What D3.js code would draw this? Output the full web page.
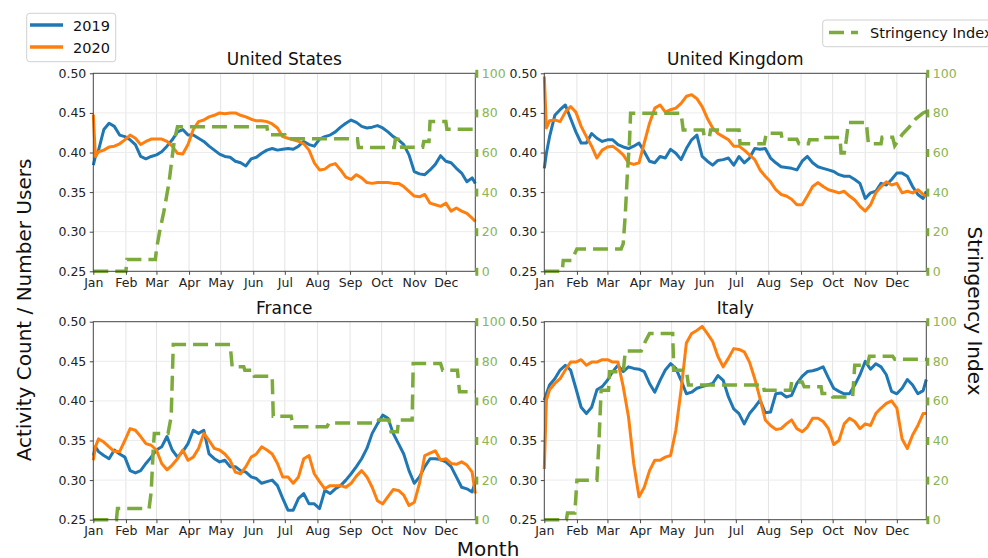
<!DOCTYPE html>
<html>
<head>
<meta charset="utf-8">
<script src="https://cdn.jsdelivr.net/npm/d3@7"></script>
<style>
  body { margin: 0; background: #fff; }
  text { font-family: "DejaVu Sans", sans-serif; }
</style>
</head>
<body>
<div id="chart"></div>
<script>
// day of year (0 = 1 Jan) at which each activity value was read
const days = [0, 2, 5, 10, 15, 20, 25, 30, 35, 40,
  45, 50, 55, 60, 65, 70, 75, 80, 85, 90,
  95, 100, 105, 110, 115, 120, 125, 130, 135, 140,
  145, 150, 155, 160, 165, 170, 175, 180, 185, 190,
  195, 200, 205, 210, 215, 220, 225, 230, 235, 240,
  245, 250, 255, 260, 265, 270, 275, 280, 285, 290,
  295, 300, 305, 310, 315, 320, 325, 330, 335, 340,
  345, 350, 355, 360, 363];

const us2019 = [0.384, 0.395, 0.403, 0.429, 0.437, 0.433, 0.422, 0.420, 0.416, 0.410,
  0.395, 0.392, 0.395, 0.397, 0.401, 0.408, 0.416, 0.426, 0.429, 0.422,
  0.422, 0.418, 0.414, 0.408, 0.403, 0.398, 0.395, 0.394, 0.389, 0.387,
  0.383, 0.392, 0.394, 0.399, 0.403, 0.405, 0.403, 0.404, 0.405, 0.404,
  0.408, 0.414, 0.410, 0.408, 0.417, 0.420, 0.422, 0.426, 0.432, 0.437,
  0.441, 0.438, 0.433, 0.431, 0.432, 0.434, 0.431, 0.426, 0.420, 0.416,
  0.410, 0.397, 0.376, 0.373, 0.372, 0.378, 0.385, 0.396, 0.389, 0.387,
  0.380, 0.374, 0.363, 0.368, 0.361];
const us2020 = [0.448, 0.395, 0.401, 0.403, 0.407, 0.408, 0.411, 0.416, 0.422, 0.418,
  0.410, 0.414, 0.417, 0.417, 0.417, 0.414, 0.408, 0.399, 0.398, 0.410,
  0.429, 0.439, 0.441, 0.445, 0.447, 0.450, 0.449, 0.450, 0.450, 0.447,
  0.445, 0.442, 0.440, 0.440, 0.439, 0.436, 0.431, 0.420, 0.418, 0.416,
  0.414, 0.411, 0.403, 0.387, 0.378, 0.379, 0.384, 0.386, 0.378, 0.369,
  0.366, 0.372, 0.368, 0.362, 0.361, 0.362, 0.362, 0.362, 0.361, 0.361,
  0.357, 0.351, 0.345, 0.344, 0.347, 0.336, 0.334, 0.332, 0.336, 0.326,
  0.330, 0.326, 0.323, 0.317, 0.313];

const uk2019 = [0.380, 0.399, 0.420, 0.447, 0.454, 0.460, 0.443, 0.426, 0.412, 0.412,
  0.424, 0.418, 0.414, 0.416, 0.416, 0.410, 0.407, 0.405, 0.408, 0.412,
  0.401, 0.389, 0.387, 0.395, 0.393, 0.404, 0.399, 0.391, 0.405, 0.416,
  0.422, 0.395, 0.389, 0.384, 0.390, 0.391, 0.393, 0.384, 0.395, 0.387,
  0.393, 0.405, 0.404, 0.405, 0.393, 0.387, 0.382, 0.381, 0.380, 0.378,
  0.389, 0.395, 0.387, 0.382, 0.380, 0.378, 0.376, 0.372, 0.370, 0.370,
  0.366, 0.361, 0.342, 0.349, 0.351, 0.361, 0.359, 0.366, 0.374, 0.374,
  0.370, 0.357, 0.347, 0.342, 0.351];
const uk2020 = [0.496, 0.431, 0.440, 0.441, 0.439, 0.451, 0.458, 0.451, 0.433, 0.420,
  0.408, 0.393, 0.403, 0.407, 0.408, 0.403, 0.397, 0.387, 0.385, 0.387,
  0.412, 0.437, 0.456, 0.460, 0.451, 0.454, 0.456, 0.462, 0.471, 0.473,
  0.468, 0.458, 0.443, 0.431, 0.424, 0.420, 0.416, 0.408, 0.408, 0.403,
  0.397, 0.391, 0.378, 0.370, 0.363, 0.353, 0.347, 0.345, 0.341, 0.334,
  0.334, 0.345, 0.357, 0.362, 0.357, 0.353, 0.351, 0.349, 0.351, 0.345,
  0.340, 0.332, 0.326, 0.334, 0.349, 0.357, 0.363, 0.359, 0.361, 0.349,
  0.351, 0.349, 0.353, 0.347, 0.345];

const fr2019 = [0.331, 0.342, 0.336, 0.331, 0.327, 0.338, 0.333, 0.329, 0.312, 0.309,
  0.312, 0.321, 0.329, 0.338, 0.342, 0.355, 0.338, 0.329, 0.336, 0.346,
  0.363, 0.359, 0.363, 0.333, 0.327, 0.323, 0.325, 0.317, 0.317, 0.312,
  0.310, 0.304, 0.302, 0.296, 0.298, 0.300, 0.293, 0.277, 0.262, 0.262,
  0.277, 0.283, 0.270, 0.270, 0.264, 0.287, 0.283, 0.289, 0.293, 0.300,
  0.308, 0.317, 0.327, 0.340, 0.359, 0.371, 0.382, 0.378, 0.359, 0.346,
  0.333, 0.312, 0.296, 0.304, 0.317, 0.327, 0.327, 0.326, 0.323, 0.317,
  0.304, 0.291, 0.289, 0.285, 0.298];
const fr2020 = [0.325, 0.342, 0.352, 0.348, 0.342, 0.336, 0.336, 0.350, 0.365, 0.363,
  0.355, 0.346, 0.344, 0.338, 0.321, 0.313, 0.319, 0.327, 0.338, 0.325,
  0.329, 0.340, 0.359, 0.350, 0.340, 0.338, 0.333, 0.325, 0.310, 0.308,
  0.317, 0.329, 0.333, 0.342, 0.338, 0.333, 0.321, 0.304, 0.304, 0.296,
  0.304, 0.327, 0.331, 0.308, 0.298, 0.289, 0.293, 0.293, 0.293, 0.291,
  0.296, 0.305, 0.312, 0.304, 0.291, 0.274, 0.270, 0.279, 0.288, 0.287,
  0.281, 0.268, 0.272, 0.296, 0.331, 0.334, 0.337, 0.325, 0.327, 0.321,
  0.320, 0.323, 0.319, 0.310, 0.283];

const it2019 = [0.401, 0.409, 0.420, 0.428, 0.439, 0.445, 0.439, 0.416, 0.392, 0.384,
  0.392, 0.414, 0.418, 0.426, 0.437, 0.445, 0.437, 0.443, 0.441, 0.440,
  0.437, 0.422, 0.411, 0.426, 0.439, 0.447, 0.441, 0.426, 0.409, 0.411,
  0.416, 0.418, 0.420, 0.422, 0.432, 0.426, 0.405, 0.390, 0.384, 0.371,
  0.384, 0.392, 0.401, 0.385, 0.386, 0.409, 0.410, 0.405, 0.407, 0.422,
  0.431, 0.437, 0.438, 0.440, 0.443, 0.429, 0.416, 0.412, 0.409, 0.409,
  0.420, 0.433, 0.450, 0.440, 0.447, 0.443, 0.433, 0.412, 0.409, 0.416,
  0.427, 0.420, 0.409, 0.413, 0.427];
const it2020 = [0.314, 0.401, 0.414, 0.422, 0.428, 0.439, 0.449, 0.449, 0.452, 0.445,
  0.449, 0.449, 0.452, 0.452, 0.449, 0.449, 0.418, 0.380, 0.321, 0.279,
  0.291, 0.312, 0.325, 0.325, 0.329, 0.331, 0.363, 0.414, 0.473, 0.485,
  0.489, 0.494, 0.485, 0.475, 0.456, 0.443, 0.454, 0.466, 0.465, 0.462,
  0.449, 0.428, 0.403, 0.376, 0.369, 0.364, 0.365, 0.371, 0.376, 0.365,
  0.361, 0.367, 0.378, 0.378, 0.374, 0.365, 0.345, 0.350, 0.371, 0.378,
  0.374, 0.365, 0.371, 0.369, 0.384, 0.391, 0.397, 0.400, 0.391, 0.352,
  0.340, 0.357, 0.369, 0.384, 0.384];

// stringency index: breakpoints (day, value)
const usStrDays = [0, 31, 32, 59, 60, 63, 67, 72, 75, 77, 80, 165, 166, 182, 183, 251, 252, 286, 287, 292, 293, 313, 314, 319, 320, 335, 336, 363];
const usStrValues = [0, 0, 6, 6, 11, 20, 30, 45, 58, 66, 73, 73, 69, 69, 67, 67, 62.5, 62.5, 66.7, 66.7, 62.7, 62.7, 65.5, 65.5, 75.6, 75.6, 71.8, 71.8];
const ukStrDays = [0, 17, 18, 26, 31, 73, 75, 77, 79, 81, 82, 130, 132, 151, 152, 157, 158, 185, 186, 209, 211, 225, 226, 240, 242, 251, 252, 263, 264, 281, 282, 285, 287, 289, 306, 308, 320, 321, 331, 333, 340, 347, 353, 360, 363];
const ukStrValues = [0, 0, 5.5, 5.5, 11.3, 11.3, 14, 29, 50, 66, 79.8, 79.8, 71.4, 71.4, 68, 68, 71.4, 71.4, 64.4, 64.4, 69.7, 69.7, 66.7, 66.7, 64.4, 64.4, 66.4, 66.4, 67.6, 67.6, 59.7, 59.7, 66.4, 75.1, 75.1, 64.4, 64.4, 67.7, 67.7, 63.4, 69, 73, 77, 80, 80.7];
const frStrDays = [0, 22, 23, 53, 55, 57, 58, 71, 74, 76, 130, 132, 143, 144, 152, 153, 170, 171, 188, 190, 222, 224, 270, 271, 281, 283, 289, 290, 303, 304, 330, 332, 346, 348, 363];
const frStrValues = [0, 0, 5.6, 5.6, 14, 36, 43.5, 43.5, 52, 88.5, 88.5, 77.2, 77.2, 75.5, 75.5, 72.5, 72.5, 52.3, 52.3, 46.9, 46.9, 48.9, 48.9, 50.3, 50.3, 44.4, 44.4, 50.3, 50.3, 78.9, 78.9, 75.5, 75.5, 64.6, 64.6];
const itStrDays = [0, 21, 22, 29, 31, 50, 52, 54, 61, 62, 75, 77, 92, 96, 100, 122, 123, 135, 137, 208, 209, 234, 235, 245, 247, 263, 264, 272, 274, 293, 295, 307, 309, 331, 333, 363];
const itStrValues = [0, 0, 3.4, 3.4, 19.9, 19.9, 40, 65.4, 65.4, 74.7, 74.7, 85.2, 85.2, 90, 94.1, 94.1, 75.5, 75.5, 68, 68, 65.4, 65.4, 69.6, 69.6, 67.1, 67.1, 63.7, 63.7, 62, 62, 78, 78, 82.6, 82.6, 81, 81];

const leftTicks = [0.25, 0.30, 0.35, 0.40, 0.45, 0.50];
const rightTicks = [0, 20, 40, 60, 80, 100];

const blue = "#1f77b4", orange = "#ff7f0e", green = "#7cab3c", greenText = "#8ab552";
const W = 988, H = 558;
const pw = 382, ph = 198;

const svg = d3.select("#chart").append("svg")
    .attr("width", W).attr("height", H);

const startDate = new Date(2020, 0, 1);
const lastDay = 363;
const toDate = d => d3.timeDay.offset(startDate, d);

const panels = [
  {title: "United States", x: 93.3, y: 73.3, a: us2019, b: us2020, sd: usStrDays, sv: usStrValues},
  {title: "United Kingdom", x: 544.3, y: 73.3, a: uk2019, b: uk2020, sd: ukStrDays, sv: ukStrValues},
  {title: "France", x: 93.3, y: 321.7, a: fr2019, b: fr2020, sd: frStrDays, sv: frStrValues},
  {title: "Italy", x: 544.3, y: 321.7, a: it2019, b: it2020, sd: itStrDays, sv: itStrValues}
];

panels.forEach(function(p) {
  const g = svg.append("g").attr("transform", `translate(${p.x},${p.y})`);
  const x = d3.scaleTime().domain([startDate, toDate(lastDay)]).range([0, pw]);
  const y = d3.scaleLinear().domain([0.25, 0.5]).range([ph, 0]);
  const y2 = d3.scaleLinear().domain([0, 100]).range([ph, 0]);
  const months = x.ticks(d3.timeMonth.every(1));

  // grid
  g.append("g").selectAll("line").data(months.slice(1)).join("line")
      .attr("x1", d => x(d)).attr("x2", d => x(d))
      .attr("y1", 0).attr("y2", ph)
      .attr("stroke", "#e4e4e4").attr("stroke-width", 1);
  g.append("g").selectAll("line").data(leftTicks.slice(1, -1)).join("line")
      .attr("x1", 0).attr("x2", pw)
      .attr("y1", d => y(d)).attr("y2", d => y(d))
      .attr("stroke", "#ececec").attr("stroke-width", 1);

  // activity lines
  const line = d3.line().x((d, i) => x(toDate(days[i]))).y(d => y(d));
  g.append("path").datum(p.a).attr("d", line)
      .attr("fill", "none").attr("stroke", blue).attr("stroke-width", 3).attr("stroke-linejoin", "round");
  g.append("path").datum(p.b).attr("d", line)
      .attr("fill", "none").attr("stroke", orange).attr("stroke-width", 3).attr("stroke-linejoin", "round");

  // stringency
  const sLine = d3.line().x(d => x(toDate(d[0]))).y(d => y2(d[1]));
  g.append("path").datum(p.sd.map((d, i) => [d, p.sv[i]])).attr("d", sLine)
      .attr("fill", "none").attr("stroke", green).attr("stroke-width", 3.5)
      .attr("stroke-dasharray", "15,7");

  // spines
  g.append("rect").attr("width", pw).attr("height", ph)
      .attr("fill", "none").attr("stroke", "#444").attr("stroke-width", 1);

  // axes
  const xa = g.append("g").attr("transform", `translate(0,${ph})`)
      .call(d3.axisBottom(x).tickValues(months).tickFormat(d3.timeFormat("%b")).tickSize(3.5).tickPadding(3));
  const ya = g.append("g")
      .call(d3.axisLeft(y).tickValues(leftTicks).tickFormat(d3.format(".2f")).tickSize(3.5).tickPadding(3.5));
  [xa, ya].forEach(a => {
    a.select(".domain").remove();
    a.selectAll(".tick line").attr("stroke", "#444");
    a.selectAll("text").attr("font-size", "12.5px").attr("fill", "#222").attr("font-family", "DejaVu Sans");
  });
  const y2a = g.append("g").attr("transform", `translate(${pw},0)`)
      .call(d3.axisRight(y2).tickValues(rightTicks).tickSize(3).tickPadding(3.5));
  y2a.select(".domain").remove();
  y2a.selectAll(".tick line").attr("stroke", green).attr("stroke-width", 8);
  y2a.selectAll("text").attr("font-size", "12.5px").attr("fill", greenText).attr("font-family", "DejaVu Sans");

  g.append("text").attr("x", pw / 2).attr("y", -8)
      .attr("text-anchor", "middle").attr("font-size", "17px").attr("fill", "#111")
      .text(p.title);
});

// axis titles
svg.append("text").attr("transform", "translate(31,310) rotate(-90)")
    .attr("text-anchor", "middle").attr("font-size", "20px").attr("fill", "#111")
    .text("Activity Count / Number Users");
svg.append("text").attr("x", 488).attr("y", 556)
    .attr("text-anchor", "middle").attr("font-size", "20px").attr("fill", "#111")
    .text("Month");
svg.append("text").attr("transform", "translate(968,311) rotate(90)")
    .attr("text-anchor", "middle").attr("font-size", "20px").attr("fill", "#111")
    .text("Stringency Index");

// legend: years
const leg = svg.append("g");
leg.append("rect").attr("x", 26.7).attr("y", 13.3).attr("width", 89).attr("height", 48.4)
    .attr("rx", 3).attr("fill", "#fff").attr("stroke", "#d0d0d0");
[["2019", blue, 25], ["2020", orange, 47]].forEach(function(r) {
  leg.append("line").attr("x1", 30).attr("x2", 63).attr("y1", r[2]).attr("y2", r[2])
      .attr("stroke", r[1]).attr("stroke-width", 3.5);
  leg.append("text").attr("x", 73).attr("y", r[2] + 5.5)
      .attr("font-size", "14.5px").attr("fill", "#111").text(r[0]);
});

// legend: stringency
const leg2 = svg.append("g");
leg2.append("rect").attr("x", 822.7).attr("y", 20).attr("width", 200).attr("height", 26.7)
    .attr("rx", 3).attr("fill", "#fff").attr("stroke", "#d0d0d0");
leg2.append("line").attr("x1", 829).attr("x2", 858).attr("y1", 32.5).attr("y2", 32.5)
    .attr("stroke", green).attr("stroke-width", 3.5).attr("stroke-dasharray", "15,7");
leg2.append("text").attr("x", 870).attr("y", 37.5)
    .attr("font-size", "14.5px").attr("fill", "#111").text("Stringency Index");
</script>
</body>
</html>
